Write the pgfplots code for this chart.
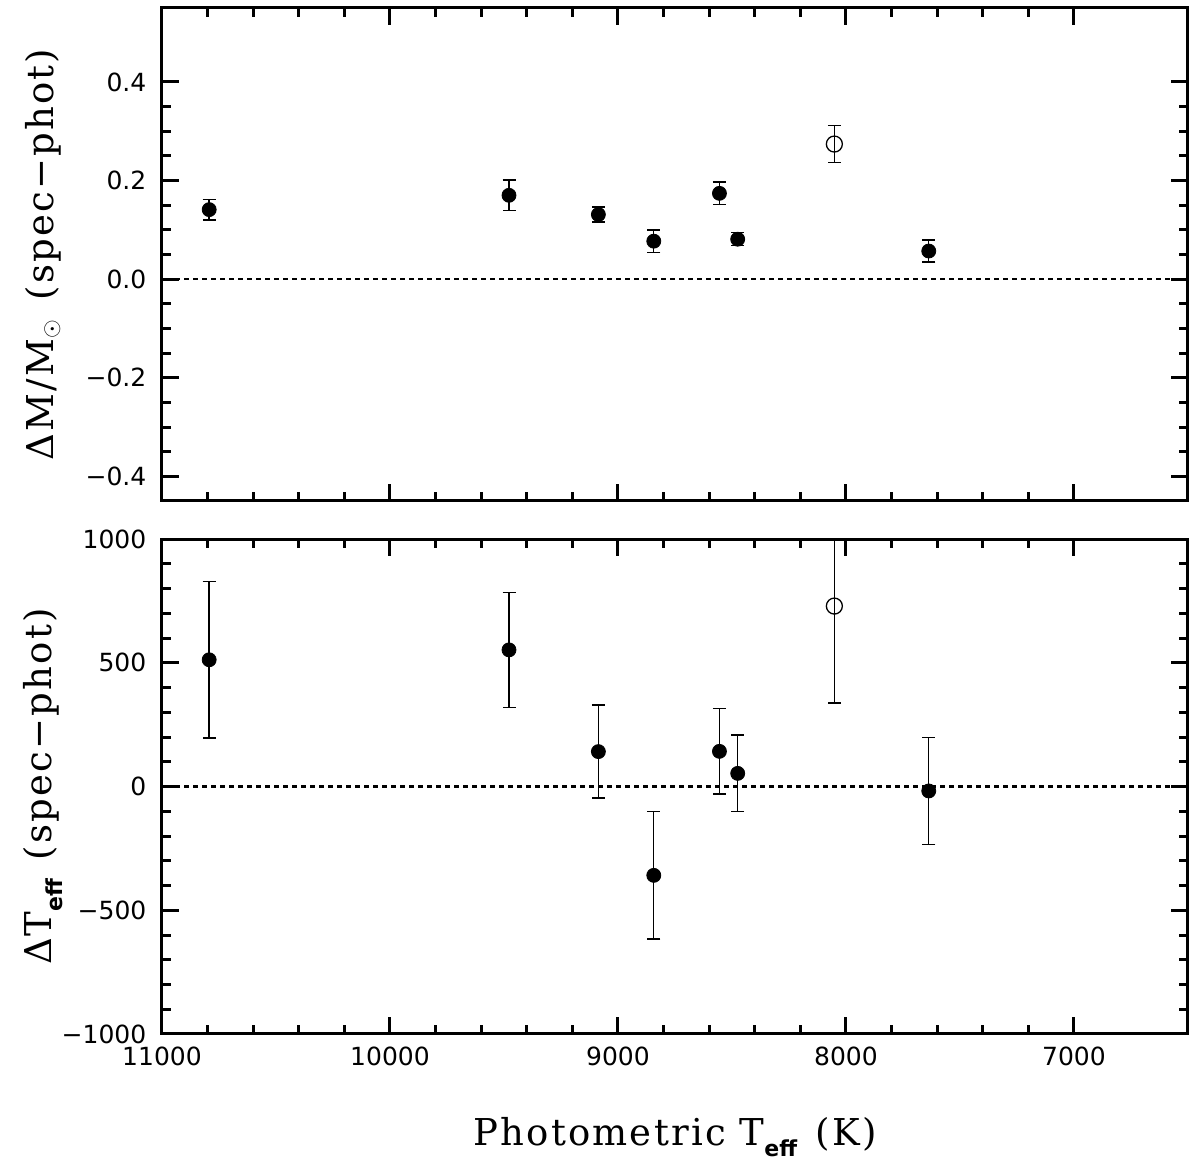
\documentclass[border=0pt]{standalone}
\usepackage{fontspec}
\usepackage{pgfplots}
\pgfplotsset{compat=1.18}
\setmainfont{DejaVu Serif}[LetterSpace=6]
\newfontfamily\tickfont{DejaVu Sans}

\pgfplotstableread{
T d e
10793 0.141 0.021
9478 0.170 0.031
9086 0.131 0.015
8843 0.077 0.023
8555 0.174 0.023
8475 0.081 0.013
7637 0.057 0.022
}\topfilled
\pgfplotstableread{
T d e
8051 0.274 0.038
}\topopen
\pgfplotstableread{
T d e
10793 512 316
9478 552 232
9086 141 188
8843 -359 257
8555 142 172
8475 53 155
7637 -18 216
}\botfilled
\pgfplotstableread{
T d e
8051 729 392
}\botopen

\begin{document}
\begin{tikzpicture}
\pgfplotsset{
  common/.style={
    scale only axis, width=513pt,
    xmin=6500, xmax=11000, x dir=reverse,
    scaled x ticks=false, scaled y ticks=false,
    xtick={7000,8000,9000,10000,11000},
    minor x tick num=4,
    tick align=inside,
    axis line style={line width=1.5pt},
    every tick/.append style={line width=1.5pt, black},
    major tick length=8.5pt, minor tick length=4.5pt,
    tick label style={font=\tickfont\fontsize{12.5}{14}\selectfont},
    yticklabel style={xshift=-4.3pt},
    xticklabel style={yshift=-2.8pt},
    label style={font=\fontsize{18.5}{22}\selectfont},
    ylabel style={at={(axis description cs:-0.116,0.5)}, anchor=center},
  },
  filled/.style={only marks, mark=*, mark size=3.5pt, black,
    error bars/.cd, y dir=both, y explicit,
    error mark options={rotate=90, mark size=3.25pt, line width=0.7pt, black},
    error bar style={line width=0.7pt, black}},
  open/.style={only marks, mark=o, mark size=4pt, black, mark options={line width=0.65pt},
    error bars/.cd, y dir=both, y explicit,
    error mark options={rotate=90, mark size=3.25pt, line width=0.7pt, black},
    error bar style={line width=0.7pt, black}},
  zeroline/.style={black, line width=1.1pt, dash pattern=on 2.3pt off 2.2pt},
}
\begin{axis}[common, name=top, height=246.5pt,
  at={(0,266.5pt)}, anchor=south west,
  ymin=-0.45, ymax=0.55,
  ytick={-0.4,-0.2,0,0.2,0.4},
  yticklabels={−0.4,−0.2,0.0,0.2,0.4},
  minor y tick num=3,
  xticklabels={},
  ylabel={ΔM/M$_\odot$\hspace{0.5em}(spec−phot)},
]
\addplot[zeroline] coordinates {(6500,0) (11000,0)};
\addplot[filled] table[x=T, y=d, y error=e] {\topfilled};
\addplot[open] table[x=T, y=d, y error=e] {\topopen};
\end{axis}
\begin{axis}[common, name=bot, height=247.5pt,
  at={(0,0)}, anchor=south west,
  ymin=-1000, ymax=1000,
  ytick={-1000,-500,0,500,1000},
  yticklabels={−1000,−500,0,500,1000},
  minor y tick num=4,
  xticklabels={7000,8000,9000,10000,11000},
  ylabel={ΔT\raisebox{-0.3em}{\tickfont\bfseries\fontsize{11}{11}\selectfont eff}\hspace{0.5em}(spec−phot)},
  xlabel={Photometric T\raisebox{-0.3em}{\tickfont\bfseries\fontsize{11}{11}\selectfont eff}\hspace{0.5em}(K)},
  xlabel style={at={(axis description cs:0.5,0)}, anchor=base, yshift=-55.5pt},
]
\addplot[zeroline] coordinates {(6500,0) (11000,0)};
\addplot[filled] table[x=T, y=d, y error=e] {\botfilled};
\addplot[open] table[x=T, y=d, y error=e] {\botopen};
\end{axis}
\path (-81pt,-67pt) rectangle (514pt,517pt);
\end{tikzpicture}
\end{document}
